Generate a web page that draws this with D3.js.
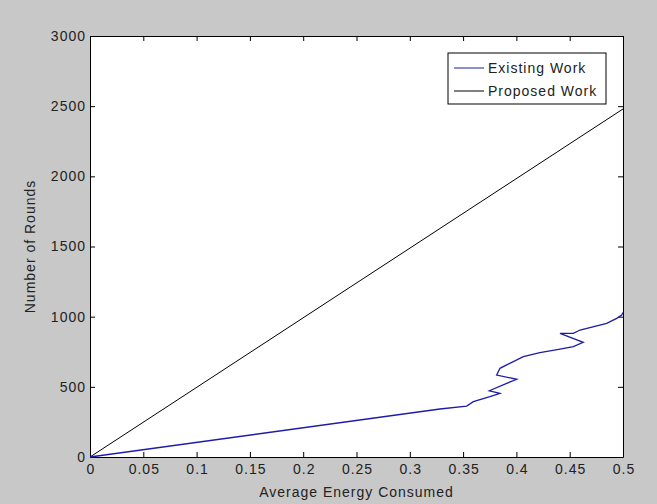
<!DOCTYPE html>
<html>
<head>
<meta charset="utf-8">
<script src="https://cdn.jsdelivr.net/npm/d3@7"></script>
<style>
  body { margin: 0; background: #c8c8c8; }
  svg { display: block; }
</style>
</head>
<body>
<script>
// series
const proposedEnergy = [0, 0.5];
const proposedRounds = [0, 2480];

const existingEnergy = [0, 0.3283, 0.3533, 0.3596, 0.3752, 0.3846, 0.3746, 0.3909, 0.4003, 0.3815,
  0.3846, 0.3909, 0.4065, 0.4221, 0.4409, 0.4534, 0.4627, 0.4409, 0.4534, 0.4597, 0.4847, 0.4941, 0.4988, 0.5];
const existingRounds = [0, 342, 363, 394, 430, 454, 472, 525, 554, 584,
  632, 656, 715, 743, 768, 786, 817, 881, 881, 905, 952, 988, 1012, 1030];

const xTicks = [0, 0.05, 0.1, 0.15, 0.2, 0.25, 0.3, 0.35, 0.4, 0.45, 0.5];
const yTicks = [0, 500, 1000, 1500, 2000, 2500, 3000];
const seriesNames = ["Existing Work", "Proposed Work"];
const seriesColors = ["#1c1ca8", "#000000"];

const width = 657, height = 504;
const margin = {top: 36, right: 34, bottom: 47, left: 90};

const svg = d3.select("body").append("svg")
    .attr("width", width)
    .attr("height", height)
    .style("font-family", "'Liberation Sans', Arial, sans-serif")
    .style("letter-spacing", "1px");

svg.append("rect").attr("width", width).attr("height", height).attr("fill", "#c8c8c8");

const x = d3.scaleLinear().domain([0, 0.5]).range([margin.left, width - margin.right]);
const y = d3.scaleLinear().domain([0, 3000]).range([height - margin.bottom, margin.top]);

svg.append("rect")
    .attr("x", x(0)).attr("y", y(3000))
    .attr("width", x(0.5) - x(0)).attr("height", y(0) - y(3000))
    .attr("fill", "#fff");

const fmtX = d => d === 0 ? "0" : String(d);

function styleAxis(g, showText) {
  g.select(".domain").attr("stroke", "#000");
  g.selectAll(".tick line").attr("stroke", "#000");
  g.selectAll(".tick text").attr("fill", "#222").style("font-size", "14px");
  if (!showText) g.selectAll(".tick text").remove();
}

svg.append("g")
    .attr("transform", `translate(0,${y(0)})`)
    .call(d3.axisBottom(x).tickValues(xTicks).tickFormat(fmtX).tickSizeInner(-5).tickSizeOuter(0).tickPadding(7))
    .call(g => styleAxis(g, true))
    .call(g => g.selectAll(".tick text").attr("dx", "0.5px"));

svg.append("g")
    .attr("transform", `translate(0,${y(3000)})`)
    .call(d3.axisTop(x).tickValues(xTicks).tickSizeInner(-5).tickSizeOuter(0))
    .call(g => styleAxis(g, false));

svg.append("g")
    .attr("transform", `translate(${x(0)},0)`)
    .call(d3.axisLeft(y).tickValues(yTicks).tickFormat(d3.format("d")).tickSizeInner(-5).tickSizeOuter(0).tickPadding(4))
    .call(g => styleAxis(g, true));

svg.append("g")
    .attr("transform", `translate(${x(0.5)},0)`)
    .call(d3.axisRight(y).tickValues(yTicks).tickSizeInner(-5).tickSizeOuter(0))
    .call(g => styleAxis(g, false));

const line = d3.line().x(d => x(d[0])).y(d => y(d[1]));

svg.append("path")
    .datum(d3.zip(proposedEnergy, proposedRounds))
    .attr("fill", "none")
    .attr("stroke", seriesColors[1])
    .attr("stroke-width", 1)
    .attr("d", line);

svg.append("path")
    .datum(d3.zip(existingEnergy, existingRounds))
    .attr("fill", "none")
    .attr("stroke", seriesColors[0])
    .attr("stroke-width", 1.3)
    .attr("d", line);

// axis titles
svg.append("text")
    .attr("x", (x(0) + x(0.5)) / 2)
    .attr("y", 497)
    .attr("text-anchor", "middle")
    .attr("fill", "#222")
    .style("font-size", "14px")
    .text("Average Energy Consumed");

svg.append("text")
    .attr("transform", `translate(35,${(y(0) + y(3000)) / 2}) rotate(-90)`)
    .attr("text-anchor", "middle")
    .attr("fill", "#222")
    .style("font-size", "14px")
    .text("Number of Rounds");

// legend
const legend = svg.append("g").attr("transform", "translate(448,53)");
legend.append("rect")
    .attr("width", 158).attr("height", 51)
    .attr("fill", "#fff").attr("stroke", "#000");

seriesNames.forEach((name, i) => {
  const ly = 15 + i * 23;
  legend.append("line")
      .attr("x1", 6).attr("x2", 36).attr("y1", ly).attr("y2", ly)
      .attr("stroke", seriesColors[i]);
  legend.append("text")
      .attr("x", 40).attr("y", ly + 5)
      .attr("fill", "#222")
      .style("font-size", "14px")
      .text(name);
});
</script>
</body>
</html>
